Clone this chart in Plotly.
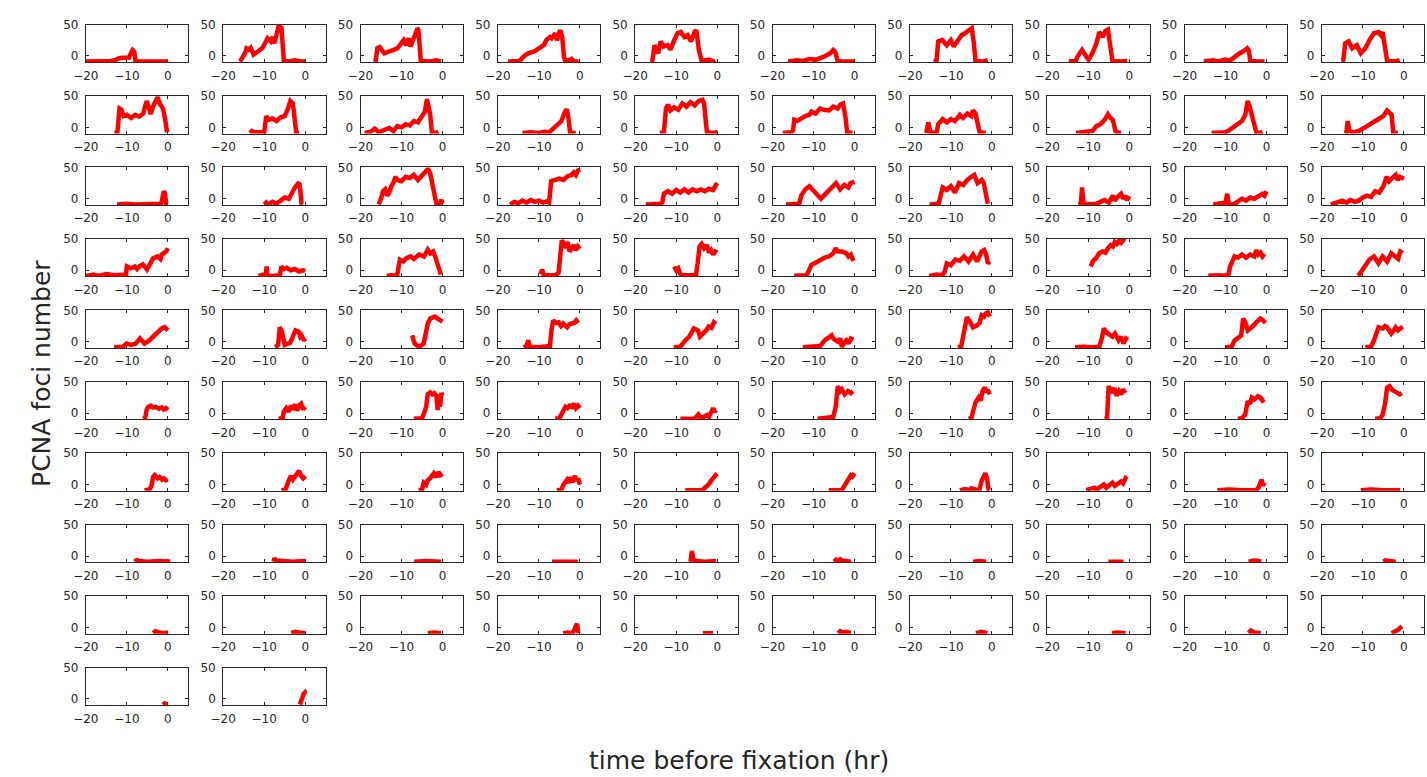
import plotly.graph_objects as go

# ---- data: (time before fixation [hr], PCNA foci number) ----
p01 = [(-20,-9),(-15,-9),(-14,-8),(-13,-7),(-12,-4),(-11,-3),(-10,-2),(-9.5,-3),(-9,4),(-8.6,9),(-8.2,6),(-7.9,-8),(-7,-9),(0,-9)]
p02 = [(-16,-9),(-15.8,-8),(-14.7,4),(-14.3,12),(-13.8,10),(-13.3,13),(-12.6,2),(-11.5,7),(-10.5,12),(-9.8,20),(-9.2,28),(-8.4,23),(-7.9,30),(-7.5,20),(-6.9,35),(-6.5,47),(-5.8,45),(-5.5,10),(-5.2,-8),(-4,-9),(-2.5,-7),(-1,-9),(0,-9)]
p03 = [(-16.8,-9),(-16.3,-8),(-15.9,12),(-15.3,14),(-14.2,4),(-13.1,7),(-12.1,9),(-11,12),(-10.4,17),(-9.5,25),(-8.9,17),(-8.3,28),(-7.8,15),(-6.8,30),(-6.1,44),(-5.9,42),(-5.5,5),(-5.3,-8),(-3,-9),(-1.5,-7),(-0.4,-9)]
p04 = [(-17.5,-9),(-14.7,-8),(-13.7,-1),(-12.6,4),(-11.1,7),(-9.9,12),(-8.8,17),(-8.2,25),(-7.3,30),(-6.9,28),(-6,36),(-5.6,25),(-4.8,41),(-4.3,30),(-3.9,-1),(-3.5,-9),(-2,-5),(-1.5,-9),(-0.3,-9)]
p05 = [(-16.3,-9),(-15.8,-8),(-15.3,17),(-14.4,4),(-13.8,23),(-13.1,15),(-12.1,17),(-11.4,10),(-10.6,23),(-9.7,36),(-8.9,38),(-8,30),(-7.2,33),(-6.4,23),(-5.5,38),(-5.1,41),(-4.5,10),(-3.8,-8),(-2,-6),(-1,-9),(-0.5,-7)]
p06 = [(-16.2,-9),(-14,-7),(-12.6,-8),(-11,-5),(-9.4,-6),(-8,-3),(-7.3,-1),(-6,4),(-5.2,9.5),(-4.7,6),(-4.1,-8),(-3,-9),(0,-9)]
p07 = [(-14.2,-9),(-13.5,-8),(-13.1,23),(-12.1,25),(-11,17),(-10,25),(-9.3,15),(-8.3,25),(-7.4,33),(-6.6,36),(-5.7,41),(-4.9,44),(-4.4,20),(-4,-8),(-2,-9),(-1,-7)]
p08 = [(-14.7,-9),(-13,-8),(-12.6,-1),(-11.5,9.5),(-10.5,-1),(-9.9,-6),(-9,4),(-8,20),(-7.3,38),(-6.5,30),(-5.8,40),(-5.2,42),(-4.6,15),(-4.1,-8),(-2,-9),(-0.5,-8)]
p09 = [(-15.3,-9),(-13,-7),(-12,-9),(-10,-6),(-9,-8),(-7.8,-1),(-6.8,3),(-5.7,7),(-4.7,12),(-4.3,8),(-4,-8),(-2,-9),(-0.5,-9)]
p10 = [(-15.2,-9),(-14.8,-8),(-14.3,20),(-13.5,23),(-12.6,12),(-11.5,17),(-10.5,4),(-9.4,12),(-8.4,25),(-7.3,36),(-6.2,38),(-5.6,33),(-5.2,38),(-4.6,15),(-4.1,-8),(-2,-9),(-1,-7)]

p11 = [(-13,-9),(-12.3,-8),(-11.8,30),(-11.3,28),(-10.8,18),(-10,20),(-9,15),(-8,20),(-7,17),(-6,22),(-5.5,35),(-5.1,42),(-4.6,30),(-4.2,21),(-3.5,35),(-2.8,45),(-2.5,48),(-2,38),(-1.2,30),(-0.6,10),(-0.2,-8)]
p12 = [(-13.5,-9),(-13,-6),(-12.5,-8),(-10.5,-9),(-10,-8),(-9.5,18),(-9,12),(-8,14),(-7,10),(-6,16),(-5,18),(-4.3,28),(-3.6,42),(-3,38),(-2.6,20),(-2.2,-8),(-1.5,-9)]
p13 = [(-19,-9),(-17.5,-7),(-16.5,-2),(-15.5,-8),(-14.5,-5),(-13,-1),(-12,-6),(-11,2),(-10,0),(-9,5),(-8,3),(-7,10),(-6,8),(-5,18),(-4.3,25),(-3.8,45),(-3.4,30),(-3,20),(-2.6,-8),(-1.5,-9),(-1,-7)]
p14 = [(-14,-9),(-12,-8),(-10,-9),(-8.5,-7),(-7.5,-8),(-6.5,-2),(-5.5,5),(-4.5,10),(-3.7,24),(-3.2,29),(-2.8,15),(-2.4,-8),(-1.5,-9),(-1,-9)]
p15 = [(-14,-9),(-13,-8),(-12.5,30),(-12,36),(-11.4,27),(-10.5,32),(-9.5,28),(-8.5,38),(-7.5,33),(-6.5,40),(-5.5,35),(-4.5,42),(-3.6,44),(-3.2,38),(-2.8,10),(-2.5,-8),(-1,-9),(0,-8)]
p16 = [(-17.5,-9),(-15.5,-8),(-15,-5),(-14.7,12),(-14,10),(-13,15),(-12,18),(-11,20),(-10.5,25),(-9.5,22),(-8.4,30),(-7.5,28),(-6.2,27),(-5.2,33),(-4.1,30),(-3.5,36),(-2.8,38),(-2.2,15),(-1.8,-8),(-0.5,-9)]
p17 = [(-16,-9),(-15.5,8),(-15,-8),(-13.5,-9),(-13.1,5),(-12,13),(-11,8),(-10,13),(-9,10),(-7.8,20),(-7,15),(-6,22),(-5,18),(-4.6,27),(-4,22),(-3.5,10),(-3,-8),(-1.5,-9)]
p18 = [(-13,-9),(-10,-8),(-9,-6),(-8,2),(-7,5),(-6,12),(-5.2,21),(-4.6,15),(-4,12),(-3.4,-5),(-3,-8),(-2,-9)]
p19 = [(-13.4,-9),(-10,-8),(-9,-4),(-8,0),(-7,5),(-6,10),(-5.2,20),(-4.6,42),(-4.2,35),(-3.6,20),(-3,10),(-2.5,-8),(-1.5,-9),(-1,-7)]
p20 = [(-14.5,-9),(-14,-8),(-13.7,10),(-13.3,-5),(-12.5,-8),(-11,-6),(-10,-2),(-9,2),(-8,8),(-7,12),(-6,14),(-5,18),(-4.1,27),(-3.5,24),(-3,20),(-2.6,-8),(-1.5,-9)]

p21 = [(-12.4,-9),(-10,-8),(-8,-9),(-5,-8),(-3,-9),(-1.6,-8),(-1.3,2),(-1,12),(-0.7,8),(-0.4,-8),(0,-9)]
p22 = [(-10,-9),(-9.5,-6),(-9,-9),(-8,-5),(-7,-8),(-6,-2),(-5,2),(-4,0),(-3.5,8),(-3,12),(-2.5,18),(-2,22),(-1.5,26),(-1.2,15),(-0.9,-8),(-0.5,-9)]
p23 = [(-15.6,-9),(-15,0),(-14.5,12),(-14,15),(-13.5,5),(-13,10),(-12.5,20),(-12,25),(-11.5,35),(-11,30),(-10,28),(-9,35),(-8,33),(-7,38),(-6,30),(-5,38),(-4,45),(-3.5,48),(-3,40),(-2.5,25),(-2,5),(-1.5,-8),(-0.8,-9),(-0.3,-2),(0,-8)]
p24 = [(-17,-9),(-16,-5),(-15,-7),(-14,-3),(-13,-6),(-12,-2),(-11,-5),(-10,-3),(-9,-6),(-8,-4),(-7.5,-6),(-7.2,20),(-7,28),(-6,30),(-5,32),(-4,30),(-3,36),(-2,38),(-1.5,42),(-1,38),(-0.5,45),(0,47)]
p25 = [(-17.4,-9),(-14,-8),(-13.4,-6),(-13,8),(-12,12),(-11,8),(-10,14),(-9,10),(-8,15),(-7,10),(-6,15),(-5,12),(-4,15),(-3,12),(-2,16),(-1,14),(-0.5,20),(0,25)]
p26 = [(-16.7,-9),(-13.5,-8),(-13,5),(-12,15),(-11,20),(-10,12),(-9,5),(-8.2,0),(-7.5,5),(-6.5,12),(-5.5,20),(-4.5,25),(-3.5,15),(-2.5,22),(-1.5,18),(-1,25),(0,27)]
p27 = [(-15.2,-9),(-13,-8),(-12.5,5),(-12,18),(-11,14),(-10,20),(-9,10),(-8,25),(-7,22),(-6,30),(-5,35),(-4.3,38),(-3.5,25),(-2.5,30),(-2,25),(-1.4,5),(-1,-8)]
p28 = [(-12.4,-9),(-11.8,-8),(-11.5,18),(-11.2,-5),(-10.5,-9),(-8,-8),(-7,-5),(-6,-2),(-5,-6),(-4,5),(-3.5,-3),(-3,2),(-2,8),(-1.5,0),(-1,5),(-0.5,-2),(0,4)]
p29 = [(-13,-9),(-11,-8),(-10,-6),(-9.6,8),(-9.2,-8),(-8,-9),(-7,-5),(-6,0),(-5,-3),(-4,2),(-3,0),(-2,5),(-1,8),(-0.5,5),(0,12)]
p30 = [(-17.8,-9),(-16,-5),(-15,-3),(-14,-6),(-13,-2),(-12,-5),(-11,-3),(-10,2),(-9,5),(-8,3),(-7,12),(-6,10),(-5,20),(-4.2,35),(-3.6,28),(-3,32),(-2,38),(-1.5,30),(-1,35),(0,32)]

p31 = [(-20,-9),(-18,-7),(-17,-9),(-15,-6),(-13,-8),(-11,-6),(-10.2,-7),(-10,6),(-9,3),(-8,6),(-7.5,2),(-6.8,7),(-6.1,9),(-5.1,1),(-4.2,10),(-3.6,19),(-2.5,22),(-1.8,18),(-1.5,25),(-0.8,27),(-0.4,30),(0,35)]
p32 = [(-11.4,-9),(-10,-8),(-9.6,-6),(-9.4,6),(-9.2,-8),(-8,-9),(-6.2,-8),(-5.8,6),(-5.2,2),(-4.5,4),(-3.5,0),(-2.5,2),(-1.5,-2),(-0.5,0),(0,-1)]
p33 = [(-13.6,-9),(-12,-8),(-11,-6),(-10.4,17),(-9.5,14),(-8.9,19),(-7.8,22),(-7,18),(-5.7,25),(-4.5,22),(-3.6,33),(-3,27),(-2.3,30),(-1.7,20),(-1,5),(-0.4,-7)]
p34 = [(-9.6,-6),(-9.2,1),(-8.8,-8),(-7,-9),(-6,-8),(-5.2,-4),(-4.8,25),(-4.4,48),(-4,42),(-3.5,36),(-3,45),(-2.5,30),(-2,35),(-1.5,40),(-1,32),(-0.5,38),(0,34)]
p35 = [(-10.5,6),(-10,0),(-9.5,3),(-9,-6),(-8,-8),(-6,-9),(-5.2,-8),(-4.8,10),(-4.3,38),(-3.8,42),(-3.2,35),(-2.5,40),(-2,28),(-1.5,32),(-1,25),(-0.5,30),(0,28)]
p36 = [(-14.7,-9),(-12,-8),(-11.5,-6),(-10.5,9),(-9.5,12),(-8.4,17),(-7.3,20),(-6.2,22),(-5.2,27),(-4.6,35),(-4.1,30),(-3.1,30),(-2,27),(-1.5,22),(-0.9,25),(-0.3,15)]
p37 = [(-15.3,-9),(-13.5,-7),(-12.1,-8),(-11.5,-2),(-11,11),(-10,8),(-8.9,17),(-7.8,15),(-6.8,22),(-5.7,14),(-4.6,25),(-3.6,14),(-2.5,30),(-1.9,32),(-1.4,25),(-1,11),(-0.5,14)]
p38 = [(-9.4,6),(-8.8,15),(-8,20),(-7.3,27),(-6.5,30),(-5.8,28),(-5.2,35),(-4.5,40),(-4,38),(-3.5,45),(-3,42),(-2.5,47),(-2,44),(-1.5,48),(-1,46)]
p39 = [(-14.2,-9),(-12,-8),(-10,-9),(-9.3,-7),(-8.9,6),(-7.8,22),(-7,20),(-6,25),(-5,20),(-4,25),(-3,22),(-2.5,32),(-2,25),(-1.5,28),(-1,22),(-0.5,26)]
p40 = [(-11.1,-9),(-10.1,1),(-9.3,6),(-8.4,17),(-7.3,22),(-6.2,11),(-5.2,22),(-4.1,14),(-3.1,27),(-2,22),(-1.4,18),(-0.9,30),(-0.3,28)]

p41 = [(-13.1,-9),(-11,-8),(-10,-3),(-9,-5),(-7.8,-3),(-6.8,5),(-5.7,-3),(-4.5,2),(-3.6,8),(-2.5,16),(-1.5,21),(-0.8,23),(-0.4,20),(0,18)]
p42 = [(-7.3,-9),(-6.6,-5),(-6.2,23),(-5.8,18),(-5.3,5),(-5,-5),(-4.3,-3),(-3.7,-2),(-3,8),(-2.4,18),(-1.6,16),(-1.2,8),(-0.9,10),(-0.3,2),(0,5)]
p43 = [(-7.4,10),(-6.8,-3),(-6.2,-6),(-5.7,-8),(-4.6,-3),(-4.2,10),(-3.6,29),(-3,37),(-2.5,38),(-1.9,40),(-1,36),(-0.4,34),(0,32)]
p44 = [(-13.7,-9),(-13,-7),(-12.6,2),(-12.2,-8),(-10,-9),(-8,-8),(-7.3,-7),(-6.9,20),(-6.5,34),(-5.8,30),(-5.2,31),(-4.6,25),(-4.1,29),(-3.1,23),(-2.5,28),(-2,29),(-1.4,30),(-0.9,34),(-0.4,30)]
p45 = [(-10.6,-9),(-9,-8),(-7.8,2),(-6.8,8),(-5.7,21),(-4.7,18),(-4.2,8),(-3.4,13),(-2.7,18),(-2.1,24),(-1.4,22),(-0.8,31),(-0.3,28)]
p46 = [(-12.6,-9),(-10,-8),(-8.4,-7),(-7.3,2),(-6.2,8),(-5.6,10),(-5.2,5),(-4.1,0),(-3.5,5),(-3.1,-8),(-2.5,-2),(-2,2),(-1.5,-3),(-0.9,5),(-0.3,3)]
p47 = [(-8.3,-9),(-7.5,-8),(-7.2,2),(-6.6,20),(-6.1,39),(-5.3,31),(-4.6,23),(-3.6,26),(-3,30),(-2.5,42),(-1.9,40),(-1.5,45),(-1,47),(-0.5,40)]
p48 = [(-13.2,-9),(-11,-8),(-9,-9),(-7.3,-8),(-6.7,5),(-6.2,21),(-5.6,15),(-5.2,13),(-4.6,10),(-4.1,8),(-3.5,13),(-2.6,2),(-2,8),(-1.4,-3),(-0.8,5),(-0.3,3)]
p49 = [(-10,-9),(-8.5,-8),(-7.8,2),(-6.8,8),(-6.2,10),(-5.7,37),(-5.1,29),(-4.6,18),(-3.6,23),(-2.5,31),(-1.5,37),(-0.8,34),(-0.3,30)]
p50 = [(-9.4,-9),(-8,-8),(-7.3,2),(-6.7,15),(-6.2,23),(-5.2,21),(-4.6,25),(-4.1,23),(-3.1,13),(-2.5,18),(-2,23),(-1.4,18),(-0.9,21),(-0.3,24)]

p51 = [(-6,-9),(-5.5,-7),(-5.2,5),(-4.8,10),(-4.2,12),(-3.6,9),(-3,10),(-2.2,7),(-1.5,9),(-1,6),(-0.5,8),(0,5)]
p52 = [(-6.5,-9),(-5.5,-8),(-5.2,3),(-4.6,8),(-4,2),(-3.5,12),(-3,6),(-2.5,14),(-2,4),(-1.5,12),(-1,15),(-0.5,6),(0,10)]
p53 = [(-7,-9),(-5,-8),(-4.5,0),(-4,10),(-3.6,30),(-3,33),(-2.5,30),(-2,32),(-1.5,28),(-1.2,5),(-1,30),(-0.6,10),(-0.3,32),(0,28)]
p54 = [(-6,-9),(-5,-8),(-4.5,-2),(-4,5),(-3.5,10),(-3,8),(-2.5,12),(-2,10),(-1.5,15),(-1,8),(-0.5,12),(0,8)]
p55 = [(-9,-9),(-7,-8),(-5.5,-9),(-4.6,-2),(-4.2,-6),(-3.5,-7),(-2.5,-3),(-2,-6),(-1.5,0),(-1,8),(-0.6,2),(-0.3,5)]
p56 = [(-9,-9),(-6,-8),(-5.2,-6),(-4.6,10),(-4.1,43),(-3.5,35),(-3.1,38),(-2.4,30),(-1.6,35),(-0.9,32),(-0.4,35)]
p57 = [(-5.7,-9),(-5,-8),(-4.5,5),(-4,17),(-3.2,25),(-2.7,20),(-2.3,35),(-1.7,41),(-1.3,33),(-1,37),(-0.5,30)]
p58 = [(-6,-9),(-5.4,-8),(-5.2,20),(-5,43),(-4.6,38),(-4.1,33),(-3.6,40),(-3.1,28),(-2.5,35),(-2,30),(-1.5,38),(-1,32)]
p59 = [(-7,-9),(-6,-8),(-5.2,-2),(-4.6,19),(-4,15),(-3.6,25),(-3,22),(-2.1,27),(-1.5,25),(-1,20),(-0.5,22)]
p60 = [(-7,-9),(-5.8,-8),(-5.2,-3),(-4.6,15),(-4.1,41),(-3.5,43),(-3,38),(-2.4,35),(-1.6,33),(-1,30),(-0.5,32)]

p61 = [(-5.7,-9),(-4.5,-8),(-4,-2),(-3.6,12),(-3.2,15),(-2.5,10),(-2,12),(-1.4,8),(-1,10),(-0.5,7),(0,8)]
p62 = [(-5.8,-9),(-4.8,-8),(-4.1,5),(-3.5,14),(-3,8),(-2.5,12),(-2,18),(-1.5,22),(-1,14),(-0.5,10),(0,14)]
p63 = [(-5.8,-9),(-5,-8),(-4.6,3),(-4,0),(-3.5,8),(-3,10),(-2.5,15),(-2.1,18),(-1.5,12),(-1,20),(-0.5,15),(0,17)]
p64 = [(-5.6,-9),(-4.5,-8),(-4,0),(-3.1,8),(-2.6,3),(-2.2,12),(-1.8,4),(-1.2,14),(-0.8,6),(-0.4,10),(0,0)]
p65 = [(-7.8,-9),(-5,-8),(-3.6,-9),(-3,-5),(-2.1,0),(-1.5,6),(-0.8,11),(-0.4,15),(0,12)]
p66 = [(-6.3,-9),(-4,-8),(-3.1,-9),(-2.5,-2),(-2,3),(-1.4,8),(-0.9,15),(-0.5,13),(0,18)]
p67 = [(-7.8,-9),(-6.5,-7),(-5.5,-9),(-5,-6),(-4,-8),(-3,-7),(-2.5,6),(-2,15),(-1.6,18),(-1.2,10),(-0.8,-8),(-0.5,-9)]
p68 = [(-10.5,-9),(-9,-7),(-8.5,-5),(-8,-8),(-7,-4),(-6.2,0),(-5.6,-5),(-5,-2),(-4.1,3),(-3.5,-2),(-3,0),(-2,5),(-1.5,2),(-0.9,10),(-0.5,8)]
p69 = [(-12,-9),(-9,-8),(-6,-9),(-3,-8),(-2.5,-9),(-2,-5),(-1.5,3),(-1.2,8),(-0.9,-2),(-0.5,4)]
p70 = [(-10.5,-9),(-8,-8),(-5,-9),(-2,-8),(-0.9,-9)]

p71 = [(-7.9,-9),(-7.6,-5),(-7.3,-8),(-5,-9),(-2,-8),(0,-9),(0.1,-5)]
p72 = [(-7.7,-9),(-7.5,-3),(-7.2,-7),(-6,-8),(-3,-9),(0,-8)]
p73 = [(-6.9,-9),(-4,-8),(-0.4,-9)]
p74 = [(-6.8,-9),(-3,-8),(-0.5,-9)]
p75 = [(-6.5,-9),(-6.2,8),(-6,2),(-5.8,-6),(-5,-8),(-3,-9),(-0.3,-8)]
p76 = [(-5,-9),(-4.5,-6),(-4,-8),(-3.5,-5),(-3,-7),(-2,-8),(-0.9,-9)]
p77 = [(-4.6,-9),(-3,-8),(-1.4,-9)]
p78 = [(-5.1,-9),(-3,-8),(-1.4,-9)]
p79 = [(-4.4,-9),(-3,-7),(-2,-8),(-1.3,-9)]
p80 = [(-5,-9),(-4.5,-7),(-3.5,-8),(-2,-9)]

p81 = [(-3.6,-9),(-3,-6),(-2,-8),(-1,-9),(0,-8)]
p82 = [(-3.4,-9),(-2.5,-7),(-1.5,-8),(0,-9)]
p83 = [(-3.6,-9),(-2,-8),(-0.4,-9)]
p84 = [(-4.1,-9),(-3,-8),(-2,-9),(-1.5,-6),(-1,2),(-0.7,6),(-0.5,-5),(-0.3,-9)]
p85 = [(-3.5,-9),(-2,-8),(-1,-9)]
p86 = [(-4,-9),(-3.5,-6),(-3,-8),(-2,-7),(-0.9,-9)]
p87 = [(-3.9,-9),(-2.5,-7),(-1.1,-9)]
p88 = [(-4.2,-9),(-3,-8),(-0.9,-9)]
p89 = [(-4.4,-9),(-3.8,-5),(-3,-8),(-1.4,-9)]
p90 = [(-3,-9),(-2.2,-7),(-1.5,-4),(-1,-1),(-0.5,2)]

p91 = [(-1.2,-9),(-0.8,-7),(-0.3,-9),(0,-8)]
p92 = [(-1.3,-9),(-1,-5),(-0.7,2),(-0.4,8),(-0.1,10),(0,8)]

x_ticks = [-20, -10, 0]
y_ticks = [0, 50]
x_title = "time before fixation (hr)"
y_title = "PCNA foci number"

panels = [p01, p02, p03, p04, p05, p06, p07, p08, p09, p10,
          p11, p12, p13, p14, p15, p16, p17, p18, p19, p20,
          p21, p22, p23, p24, p25, p26, p27, p28, p29, p30,
          p31, p32, p33, p34, p35, p36, p37, p38, p39, p40,
          p41, p42, p43, p44, p45, p46, p47, p48, p49, p50,
          p51, p52, p53, p54, p55, p56, p57, p58, p59, p60,
          p61, p62, p63, p64, p65, p66, p67, p68, p69, p70,
          p71, p72, p73, p74, p75, p76, p77, p78, p79, p80,
          p81, p82, p83, p84, p85, p86, p87, p88, p89, p90,
          p91, p92]


def tick_text(vals):
    return [str(v).replace("-", "\u2212") for v in vals]


# ---- layout geometry (pixels) ----
W, H = 1427, 777
LEFT0, COLSTEP, PW = 73.5, 138.6, 103.5
TOP0, ROWSTEP, PH = 17.7, 72.2, 38.0
NCOL = 10
AXC = "#262626"
FONT = "DejaVu Sans, Arial, sans-serif"

fig = go.Figure()
layout = {}
for i, pts in enumerate(panels):
    r, c = divmod(i, NCOL)
    k = i + 1
    sfx = "" if k == 1 else str(k)
    fig.add_trace(go.Scatter(
        x=[p[0] for p in pts], y=[p[1] for p in pts],
        mode="lines", line=dict(color="#ff0000", width=4.5),
        xaxis="x" + sfx, yaxis="y" + sfx,
        showlegend=False, hoverinfo="skip"))
    x0 = LEFT0 + c * COLSTEP
    y0 = TOP0 + r * ROWSTEP
    common = dict(showline=True, linecolor=AXC, linewidth=1, mirror="ticks",
                  ticks="inside", ticklen=3, tickcolor=AXC, tickwidth=1,
                  showgrid=False, zeroline=False, fixedrange=True,
                  layer="below traces",
                  tickfont=dict(family=FONT, size=12, color=AXC))
    layout["xaxis" + sfx] = dict(common, domain=[x0 / W, min(1.0, (x0 + PW) / W)],
                                 anchor="y" + sfx, range=[-20, 5],
                                 tickmode="array", tickvals=x_ticks,
                                 ticktext=tick_text(x_ticks), ticklabelstandoff=2)
    layout["yaxis" + sfx] = dict(common, domain=[1 - (y0 + PH) / H, 1 - y0 / H],
                                 anchor="x" + sfx, range=[-10, 50],
                                 tickmode="array", tickvals=y_ticks,
                                 ticktext=tick_text(y_ticks), ticklabelstandoff=4)

fig.update_layout(**layout)
fig.update_layout(
    width=W, height=H, autosize=False,
    margin=dict(l=0, r=0, t=0, b=0),
    paper_bgcolor="white", plot_bgcolor="white",
    annotations=[
        dict(text=y_title, x=28 / W, y=1 - 370 / H, xref="paper", yref="paper",
             textangle=-90, showarrow=False, xanchor="center", yanchor="middle",
             font=dict(family=FONT, size=25, color=AXC)),
        dict(text=x_title, x=733 / W, y=1 - 761 / H, xref="paper", yref="paper",
             showarrow=False, xanchor="center", yanchor="middle",
             font=dict(family=FONT, size=25, color=AXC)),
    ])

fig.write_html("out.html")
